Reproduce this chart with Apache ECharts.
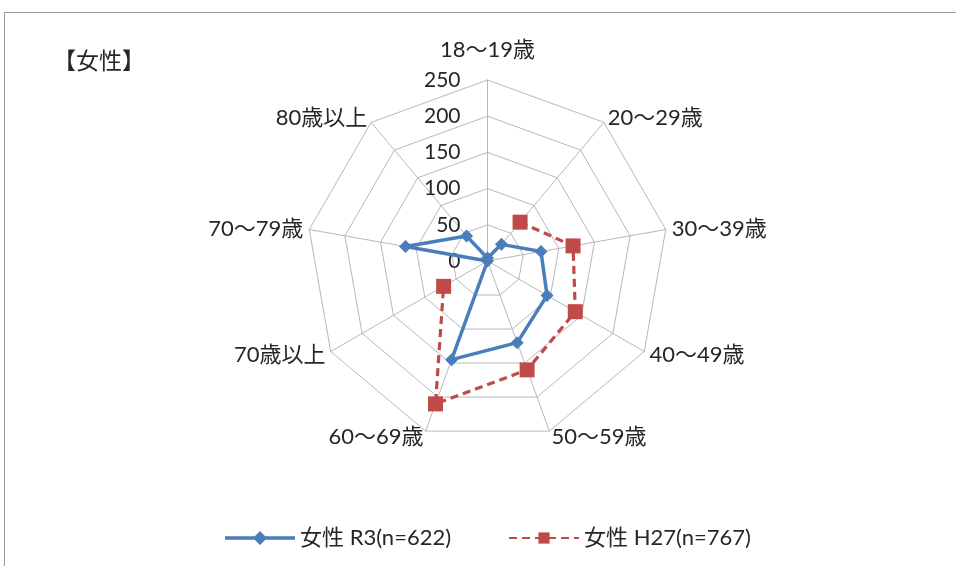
<!DOCTYPE html>
<html>
<head>
<meta charset="utf-8">
<script src="https://cdn.jsdelivr.net/npm/echarts@6/dist/echarts.min.js"></script>
<style>
  html, body { margin: 0; padding: 0; background: #fff; }
  #chart { width: 956px; height: 566px; }
</style>
</head>
<body>
<div id="chart"></div>
<script>
// Age groups, clockwise from the top
const ageGroups = ['18～19歳', '20～29歳', '30～39歳', '40～49歳', '50～59歳', '60～69歳', '70歳以上', '70～79歳', '80歳以上'];
// Respondent counts per age group
const femaleR3 = [4, 30, 75, 95, 120, 145, 0, 115, 45];
const femaleH27 = [null, 70, 120, 140, 160, 210, 70, null, null];
const seriesNames = ['女性 R3(n=622)', '女性 H27(n=767)'];
const scaleMax = 250;
const scaleStep = 50;

const FONT = "Lato, 'Noto Sans CJK JP', sans-serif";
const TEXT = '#262626';
const GRID = '#b8b8b8';
const CENTER = [487.5, 261];
const RADIUS = 181;

// The radar lays indicators out counter-clockwise, so feed it the groups
// in reverse after the first to run them clockwise.
const order = [0].concat(ageGroups.map((_, i) => i).slice(1).reverse());

const indicators = order.map((idx, k) => {
  const ind = { name: ageGroups[idx], min: 0, max: scaleMax };
  if (k === 0) {
    // scale values are printed along the top axis only
    ind.axisLabel = {
      show: true, fontSize: 21, color: TEXT, fontFamily: FONT, margin: 27,
      showMinLabel: true, showMaxLabel: true
    };
  }
  return ind;
});

const legendText = { fontSize: 22, color: TEXT, fontFamily: FONT };

const chart = echarts.init(document.getElementById('chart'), null, { renderer: 'canvas' });

chart.setOption({
  animation: false,
  backgroundColor: '#fff',
  graphic: [
    {
      type: 'rect', silent: true,
      shape: { x: 4.5, y: 12.5, width: 1000, height: 700 },
      style: { fill: 'none', stroke: '#9a9a9a', lineWidth: 1 }
    },
    {
      type: 'text', left: 53, top: 49,
      style: { text: '【女性】', font: "23px 'Noto Sans CJK JP'", fill: TEXT }
    }
  ],
  legend: [
    {
      left: 220, top: 522,
      itemWidth: 70, itemHeight: 14,
      textStyle: legendText,
      data: [{ name: seriesNames[0], icon: 'path://M0,5.25H70V8.75H0Z M35,0L42,7L35,14L28,7Z' }]
    },
    {
      left: 503, top: 522,
      itemWidth: 70, itemHeight: 14,
      textStyle: legendText,
      data: [{ name: seriesNames[1] }]
    }
  ],
  radar: {
    center: CENTER,
    radius: RADIUS,
    startAngle: 90,
    shape: 'polygon',
    splitNumber: scaleMax / scaleStep,
    indicator: indicators,
    nameGap: 6,
    axisName: {
      color: TEXT, fontSize: 22, fontFamily: FONT,
      // the top name sits clear of the scale values beneath it
      formatter: name => (name === ageGroups[0] ? name + '\n{gap|}' : name),
      rich: {
        gap: { lineHeight: 9, fontSize: 8 }
      }
    },
    axisLine: { lineStyle: { color: GRID, width: 1 } },
    splitLine: { lineStyle: { color: GRID, width: 1 } },
    splitArea: { show: false },
    axisTick: { show: false },
    axisLabel: { show: false }
  },
  polar: { center: CENTER, radius: RADIUS },
  angleAxis: {
    type: 'category', data: ageGroups, boundaryGap: false,
    startAngle: 90, clockwise: true,
    axisLine: { show: false }, axisTick: { show: false },
    axisLabel: { show: false }, splitLine: { show: false }
  },
  radiusAxis: {
    min: 0, max: scaleMax, interval: scaleStep,
    axisLine: { show: false }, axisTick: { show: false },
    axisLabel: { show: false }, splitLine: { show: false }
  },
  series: [
    {
      type: 'radar',
      z: 3,
      symbol: 'diamond',
      symbolSize: 13,
      lineStyle: { color: '#4A7EBB', width: 3.5 },
      itemStyle: { color: '#4A7EBB' },
      data: [{ name: seriesNames[0], value: order.map(i => femaleR3[i]) }]
    },
    {
      type: 'line',
      name: seriesNames[1],
      coordinateSystem: 'polar',
      z: 2,
      data: femaleH27,
      connectNulls: false,
      symbol: 'rect',
      symbolSize: 15,
      lineStyle: { color: '#BE4B48', width: 3.2, type: [8, 5] },
      itemStyle: { color: '#BE4B48' }
    }
  ]
});
</script>
</body>
</html>
